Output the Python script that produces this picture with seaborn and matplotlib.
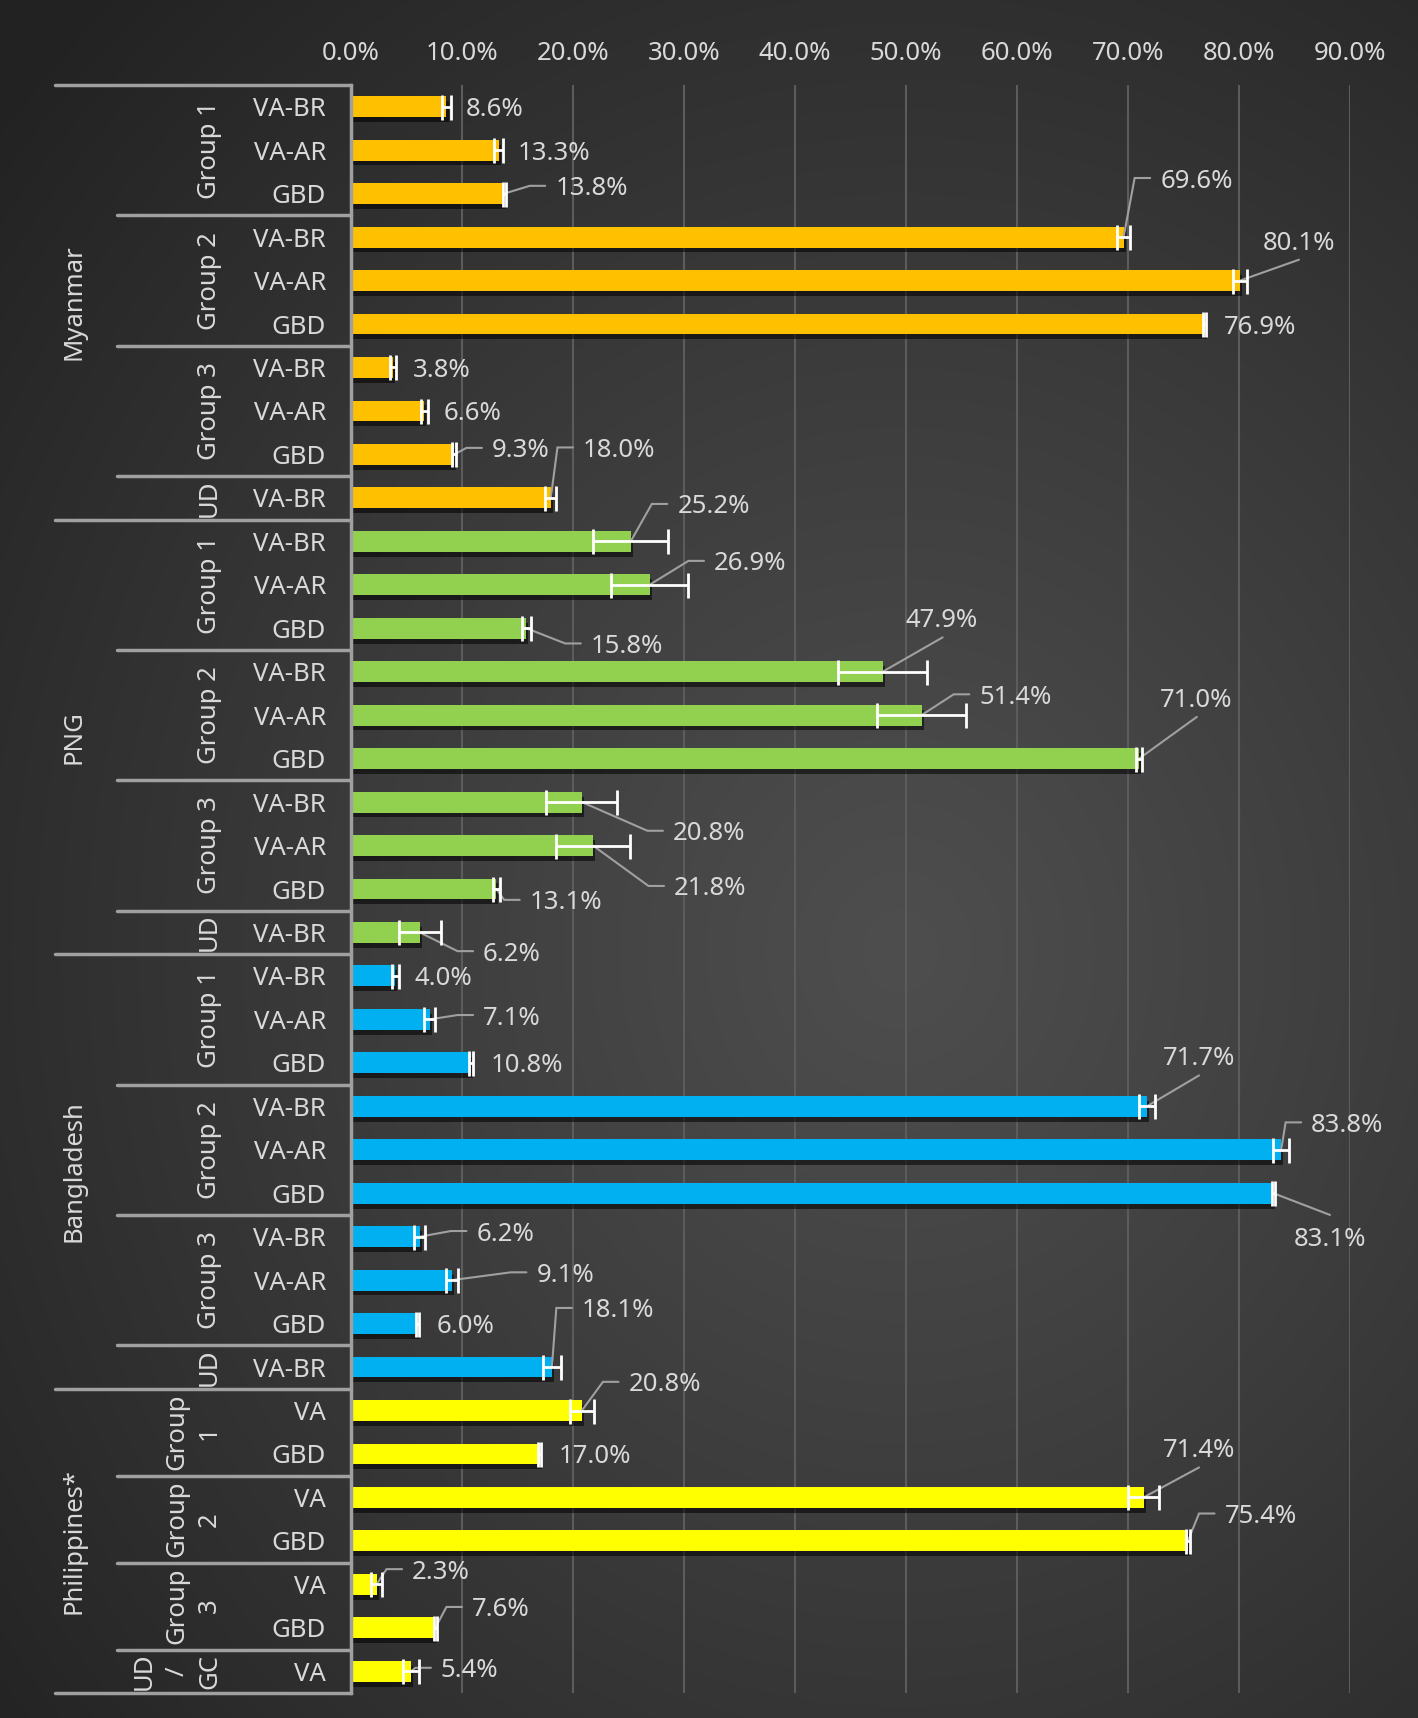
import numpy as np
import pandas as pd
import matplotlib
matplotlib.use('Agg')
import matplotlib.pyplot as plt
import matplotlib.patheffects as pe
from matplotlib.transforms import blended_transform_factory
import seaborn as sns

# Chart data
countries = ['Myanmar', 'PNG', 'Bangladesh', 'Philippines*']
country_colors = ['#FFC000', '#92D050', '#00B0F0', '#FFFF00']

groups_std = ['Group 1', 'Group 2', 'Group 3', 'UD']
groups_ph = ['Group\n1', 'Group\n2', 'Group\n3', 'UD\n/\nGC']
measures_std = [['VA-BR', 'VA-AR', 'GBD']] * 3 + [['VA-BR']]
measures_ph = [['VA', 'GBD']] * 3 + [['VA']]

myanmar = [8.6, 13.3, 13.8, 69.6, 80.1, 76.9, 3.8, 6.6, 9.3, 18.0]
png = [25.2, 26.9, 15.8, 47.9, 51.4, 71.0, 20.8, 21.8, 13.1, 6.2]
bangladesh = [4.0, 7.1, 10.8, 71.7, 83.8, 83.1, 6.2, 9.1, 6.0, 18.1]
philippines = [20.8, 17.0, 71.4, 75.4, 2.3, 7.6, 5.4]

myanmar_err = [0.4, 0.4, 0.15, 0.6, 0.6, 0.15, 0.25, 0.3, 0.2, 0.5]
png_err = [3.4, 3.5, 0.4, 4.0, 4.0, 0.3, 3.2, 3.3, 0.3, 1.9]
bangladesh_err = [0.3, 0.5, 0.15, 0.7, 0.7, 0.15, 0.5, 0.5, 0.15, 0.8]
philippines_err = [1.1, 0.15, 1.4, 0.15, 0.5, 0.15, 0.7]

xticks = [0, 10, 20, 30, 40, 50, 60, 70, 80, 90]

# Data label placement (label left x in %, row offset, leader style)
label_x = [None, None, 18.4, 72.9, 82.1, None, None, None, 12.7, 20.9,
           29.4, 32.7, 21.6, 50.0, 56.6, 72.9, 29.0, 29.1, 16.1, 11.9,
           None, 11.9, None, 73.1, 86.5, 84.9, 11.3, 16.7, None, 20.8,
           25.0, None, 73.1, 78.7, 5.5, 10.9, 8.1]
label_dy = [0, 0, -0.18, -1.36, -0.93, 0, 0, 0, -0.15, -1.16,
            -0.86, -0.55, 0.35, -1.24, -0.48, -1.41, 0.66, 0.93, 0.25, 0.43,
            0, -0.1, 0, -1.16, -0.63, 1.0, -0.13, -0.18, 0, -1.36,
            -0.66, 0, -1.14, -0.63, -0.35, -0.48, -0.08]
leader = ['', '', 'l', 'l', 'b', '', '', '', 'l', 'l',
          'l', 'l', 'l', 'b', 'l', 'b', 'l', 'l', 'l', 'l',
          '', 'l', '', 'b', 'l', 't', 'l', 'l', '', 'l',
          'l', '', 'b', 'l', 'l', 'l', 'l']

# Build long table
values = [myanmar, png, bangladesh, philippines]
errors = [myanmar_err, png_err, bangladesh_err, philippines_err]
group_sets = [groups_std, groups_std, groups_std, groups_ph]
measure_sets = [measures_std, measures_std, measures_std, measures_ph]

rows = []
for country, vals, errs, groups, measures in zip(countries, values, errors, group_sets, measure_sets):
    k = 0
    for g, ms in zip(groups, measures):
        for m in ms:
            rows.append({'row': f'{country}|{g}|{m}', 'country': country, 'group': g,
                         'measure': m, 'value': vals[k], 'err': errs[k]})
            k += 1
df = pd.DataFrame(rows)
n = len(df)

sns.set_theme(style='dark')
plt.rcParams['font.family'] = ['Noto Sans', 'DejaVu Sans']
text_color = '#d9d9d9'
line_color = '#a0a0a0'
fs = 18.5

fig = plt.figure(figsize=(14.18, 17.18), dpi=100)

# Radial gradient background
bg = fig.add_axes([0, 0, 1, 1], zorder=-10)
h, w = 1718, 1418
yy, xx = np.mgrid[0:h, 0:w]
r = np.sqrt(((xx - 900) / 950) ** 2 + ((yy - 950) / 1050) ** 2)
t = np.clip(r / 1.25, 0, 1) ** 1.1
shade = 0x4e / 255 * (1 - t) + 0x22 / 255 * t
bg.imshow(np.dstack([shade] * 3), aspect='auto', extent=[0, 1, 0, 1])
bg.axis('off')

ax = fig.add_axes([351 / 1418, 1 - 1693 / 1718, 999 / 1418, (1693 - 85) / 1718])
ax.set_facecolor('none')

sns.barplot(data=df, y='row', x='value', hue='country', palette=country_colors,
            hue_order=countries, dodge=False, width=0.48, saturation=1,
            errorbar=None, legend=False, orient='h', ax=ax, linewidth=0, zorder=3)

for p in ax.patches:
    p.set_path_effects([pe.SimplePatchShadow(offset=(1.5, -3.5), shadow_rgbFace='black', alpha=0.55),
                        pe.Normal()])

ypos = np.arange(n)
ax.errorbar(df['value'], ypos, xerr=df['err'], fmt='none', ecolor='white',
            elinewidth=2, capsize=9, capthick=2, zorder=5)

ax.set_xlim(0, 90)
ax.set_ylim(n - 0.5, -0.5)
ax.set_xticks(xticks)
ax.set_xticklabels([f'{v:.1f}%' for v in xticks], fontsize=fs, color=text_color)
ax.xaxis.tick_top()
ax.tick_params(axis='x', length=0, pad=14)
ax.set_yticks(ypos)
ax.set_yticklabels(df['measure'], fontsize=fs, color=text_color, va='center_baseline')
ax.tick_params(axis='y', length=0, pad=18)
ax.set_xlabel('')
ax.set_ylabel('')

ax.grid(axis='x', color='#5c5c5c', linewidth=1.5, zorder=0)
ax.grid(axis='y', visible=False)
for s in ['top', 'right', 'bottom']:
    ax.spines[s].set_visible(False)
ax.spines['left'].set_color(line_color)
ax.spines['left'].set_linewidth(2.5)
ax.spines['left'].set_zorder(6)

# Data labels with leader lines
for i, (v, e) in enumerate(zip(df['value'], df['err'])):
    txt = f'{v:.1f}%'
    lx = label_x[i] if label_x[i] is not None else v + 1.75
    ly = i + label_dy[i]
    ax.text(lx, ly, txt, ha='left', va='center_baseline', fontsize=fs, color=text_color, zorder=7)
    mode = leader[i]
    if mode == 'l':
        ax.plot([v, lx - 2.3, lx - 0.9], [i, ly, ly], color=line_color, lw=1.5, zorder=4,
                solid_joinstyle='miter')
    elif mode == 'b':
        ax.plot([v, lx + 3.3], [i, ly + 0.45], color=line_color, lw=1.5, zorder=4)
    elif mode == 't':
        ax.plot([v, lx + 3.3], [i, ly - 0.5], color=line_color, lw=1.5, zorder=4)

# Hierarchical category labels
trans = blended_transform_factory(ax.transAxes, ax.transData)
sep_kw = dict(color=line_color, lw=2.5, transform=trans, clip_on=False, zorder=6)
row = 0
ax.plot([-0.2965, 0], [-0.5, -0.5], **sep_kw)
for country, groups, measures in zip(countries, group_sets, measure_sets):
    start = row
    for gi, (g, ms) in enumerate(zip(groups, measures)):
        gstart = row
        row += len(ms)
        ax.text(-0.129, (gstart + row - 1) / 2, g, rotation=90, ha='right', va='center',
                multialignment='center', fontsize=fs, color=text_color, transform=trans,
                linespacing=1.4)
        if gi < len(groups) - 1:
            ax.plot([-0.234, 0], [row - 0.5, row - 0.5], **sep_kw)
    ax.text(-0.277, (start + row - 1) / 2, country, rotation=90, ha='center', va='center',
            fontsize=fs, color=text_color, transform=trans)
    ax.plot([-0.2965, 0], [row - 0.5, row - 0.5], **sep_kw)

fig.savefig('out.png', dpi=100)
